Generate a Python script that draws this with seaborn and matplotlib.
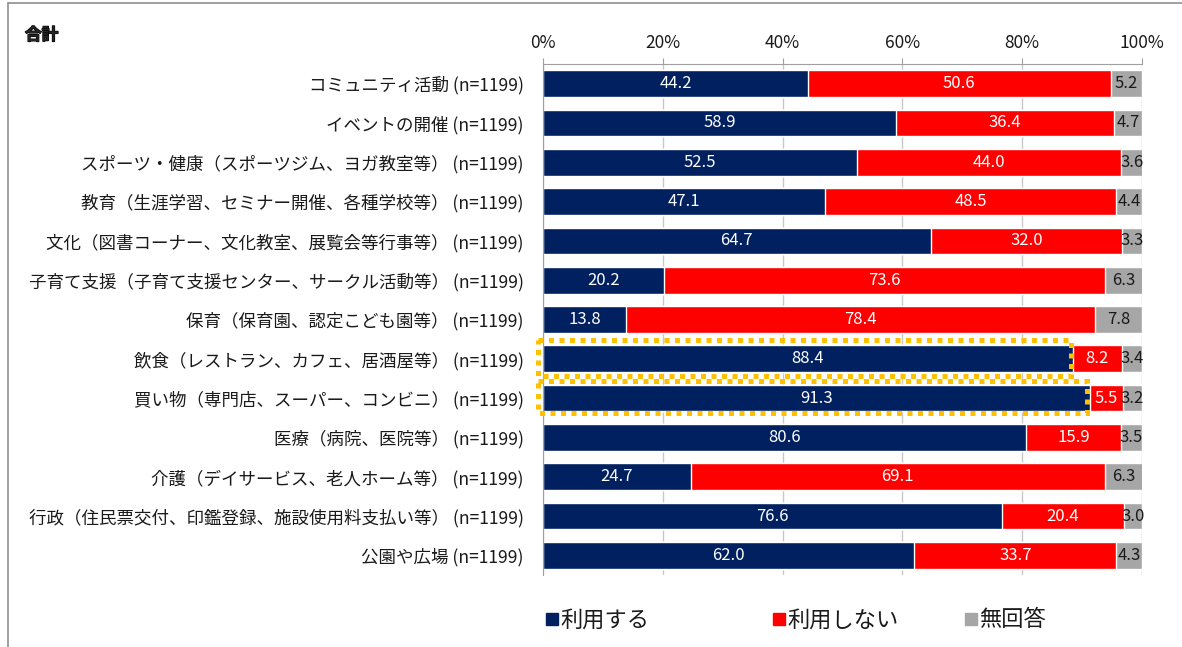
import numpy as np
import pandas as pd
import matplotlib
matplotlib.use("Agg")
import matplotlib.pyplot as plt
import matplotlib.patheffects as pe
import seaborn as sns
from matplotlib.patches import Rectangle
from matplotlib.lines import Line2D
from matplotlib.ticker import FixedLocator

categories = [
    "コミュニティ活動 (n=1199)",
    "イベントの開催 (n=1199)",
    "スポーツ・健康（スポーツジム、ヨガ教室等） (n=1199)",
    "教育（生涯学習、セミナー開催、各種学校等） (n=1199)",
    "文化（図書コーナー、文化教室、展覧会等行事等） (n=1199)",
    "子育て支援（子育て支援センター、サークル活動等） (n=1199)",
    "保育（保育園、認定こども園等） (n=1199)",
    "飲食（レストラン、カフェ、居酒屋等） (n=1199)",
    "買い物（専門店、スーパー、コンビニ） (n=1199)",
    "医療（病院、医院等） (n=1199)",
    "介護（デイサービス、老人ホーム等） (n=1199)",
    "行政（住民票交付、印鑑登録、施設使用料支払い等） (n=1199)",
    "公園や広場 (n=1199)",
]
use = [44.2, 58.9, 52.5, 47.1, 64.7, 20.2, 13.8, 88.4, 91.3, 80.6, 24.7, 76.6, 62.0]
not_use = [50.6, 36.4, 44.0, 48.5, 32.0, 73.6, 78.4, 8.2, 5.5, 15.9, 69.1, 20.4, 33.7]
no_answer = [5.2, 4.7, 3.6, 4.4, 3.3, 6.3, 7.8, 3.4, 3.2, 3.5, 6.3, 3.0, 4.3]
series_names = ["利用する", "利用しない", "無回答"]
colors = ["#002060", "#FF0000", "#A6A6A6"]

df = pd.DataFrame({"cat": categories, "use": use, "not_use": not_use, "na": no_answer})
df["c1"] = df["use"]
df["c2"] = df["use"] + df["not_use"]
df["c3"] = df["c2"] + df["na"]

sns.set_style("white")
plt.rcParams["font.family"] = ["Noto Sans CJK JP", "DejaVu Sans"]

fig = plt.figure(figsize=(11.82, 6.47), dpi=100)
ax = fig.add_axes([543 / 1182, 1 - 575 / 647, (1142 - 543) / 1182, (575 - 64) / 647])

bw = 0.68
# stacked bars drawn as layered cumulative totals
for col, c in zip(["c3", "c2", "c1"], colors[::-1]):
    sns.barplot(data=df, y="cat", x=col, color=c, orient="h", width=bw,
                saturation=1, ax=ax, zorder=2)

# value labels
for i, row in df.iterrows():
    segs = [(0, row["use"], "white"), (row["c1"], row["not_use"], "white"),
            (row["c2"], row["na"], "#1a1a1a")]
    for left, w, tc in segs:
        ax.text(left + w / 2, i, f"{w:.1f}", ha="center", va="center",
                color=tc, fontsize=12, zorder=5)

ax.set_xlim(0, 100)
ax.set_ylim(len(categories) - 0.5, -0.5)
ax.xaxis.tick_top()
ax.set_xticks(np.arange(0, 101, 20))
ax.set_xticklabels([f"{v}%" for v in range(0, 101, 20)], fontsize=12.5, color="#1a1a1a")
ax.tick_params(axis="x", length=4, color="#A0A0A0", pad=5)
ax.tick_params(axis="y", which="major", length=0, pad=14, labelsize=12.6, labelcolor="#1a1a1a")
ax.yaxis.set_minor_locator(FixedLocator(np.arange(-0.5, len(categories), 1)))
ax.tick_params(axis="y", which="minor", length=4, color="#A0A0A0")
ax.set_xlabel("")
ax.set_ylabel("")
ax.grid(axis="x", color="#C8C8C8", linewidth=1, zorder=0)
ax.set_axisbelow(True)
for s in ["right", "bottom"]:
    ax.spines[s].set_visible(False)
for s in ["left", "top"]:
    ax.spines[s].set_color("#A0A0A0")

# highlighted rows (dotted orange boxes)
hl = dict(fill=False, edgecolor="#FFC000", linewidth=3.6, linestyle=(0, (1, 1.1)),
          zorder=6, clip_on=False)
ax.add_patch(Rectangle((-0.8, 6.52), 88.9, 0.91, **hl))
ax.add_patch(Rectangle((-0.8, 7.56), 91.7, 0.82, **hl))

fig.text(25 / 1182, 1 - 35 / 647, "合計", fontsize=12, fontweight="bold", va="center",
         path_effects=[pe.withStroke(linewidth=0.9, foreground="black")])

# legend entries
for name, c, x in zip(series_names, colors, [545, 772, 964]):
    h = Line2D([], [], marker="s", linestyle="none", color=c, markersize=9)
    fig.legend(handles=[h], labels=[name], loc="center left",
               bbox_to_anchor=(x / 1182, 1 - 620 / 647), frameon=False,
               fontsize=16, handlelength=0.6, handletextpad=0.1,
               borderpad=0, borderaxespad=0, labelcolor="#1a1a1a")

# frame: top and left edges only
fig.add_artist(Line2D([8 / 1182, 1], [1 - 3 / 647, 1 - 3 / 647], transform=fig.transFigure,
                      color="#909090", linewidth=1.2))
fig.add_artist(Line2D([8 / 1182, 8 / 1182], [0, 1 - 3 / 647], transform=fig.transFigure,
                      color="#909090", linewidth=1.2))

fig.savefig("out.png", dpi=100)
